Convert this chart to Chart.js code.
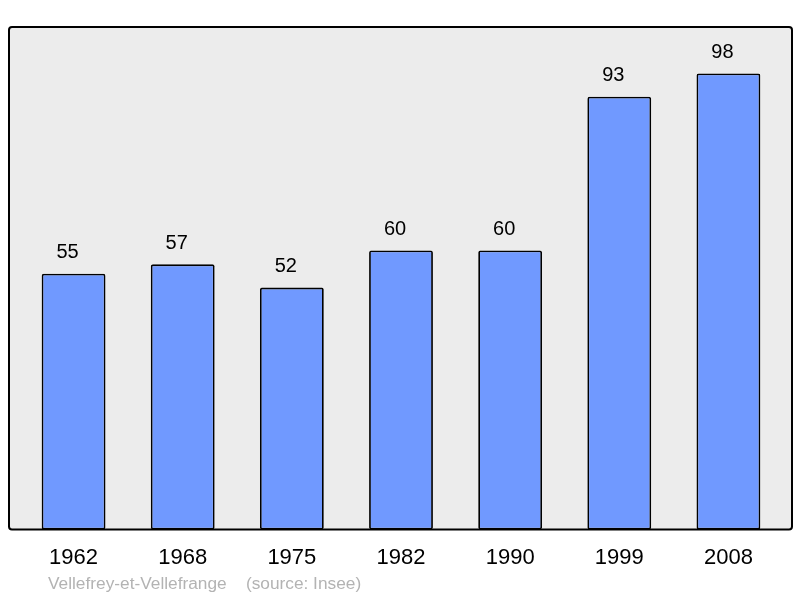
<!DOCTYPE html>
<html>
<head>
<meta charset="utf-8">
<script src="https://cdn.jsdelivr.net/npm/chart.js@4"></script>
<style>
  html, body { margin: 0; padding: 0; background: #ffffff; }
  #wrap { width: 800px; height: 598px; }
</style>
</head>
<body>
<div id="wrap"><canvas id="pop-canvas" width="800" height="598"></canvas></div>
<script>
// population by census year
var years = ['1962', '1968', '1975', '1982', '1990', '1999', '2008'];
var population = [55, 57, 52, 60, 60, 93, 98];
var footerText = 'Vellefrey-et-Vellefrange    (source: Insee)';

// grey box behind the bars, a bit wider than the chart area
var boxPlugin = {
    id: 'box',
    beforeDraw: function (chart) {
        var a = chart.chartArea;
        var ctx = chart.ctx;
        ctx.save();
        ctx.beginPath();
        ctx.roundRect(a.left - 10, a.top, a.right - a.left + 19, a.bottom - a.top, 3);
        ctx.fillStyle = '#ececec';
        ctx.fill();
        ctx.restore();
    },
    afterDatasetsDraw: function (chart) {
        var a = chart.chartArea;
        var ctx = chart.ctx;
        ctx.save();
        ctx.beginPath();
        ctx.roundRect(a.left - 10, a.top, a.right - a.left + 19, a.bottom - a.top, 3);
        ctx.lineWidth = 2;
        ctx.strokeStyle = '#000000';
        ctx.stroke();

        // values above bars
        ctx.fillStyle = '#000000';
        ctx.font = '20px "Liberation Sans", Arial, sans-serif';
        ctx.textAlign = 'center';
        ctx.textBaseline = 'middle';
        chart.getDatasetMeta(0).data.forEach(function (bar, i) {
            ctx.fillText(population[i], bar.x - 6, bar.y - 21);
        });

        // footer
        ctx.fillStyle = '#b3b3b3';
        ctx.font = '17.3px "Liberation Sans", Arial, sans-serif';
        ctx.textAlign = 'left';
        ctx.fillText(footerText, 48, 584);
        ctx.restore();
    }
};

var barConfig = {
    type: 'bar',
    data: {
        labels: years,
        datasets: [{
            label: 'Population',
            data: population,
            backgroundColor: '#7099ff',
            borderColor: '#000000',
            borderWidth: 1.8,
            borderRadius: 2,
            borderSkipped: false,
            barPercentage: 0.585,
            categoryPercentage: 1
        }]
    },
    options: {
        responsive: false,
        animation: false,
        layout: {
            padding: { left: 19, right: 17, top: 27, bottom: 12 }
        },
        plugins: {
            legend: { display: false },
            tooltip: { enabled: false }
        },
        scales: {
            x: {
                grid: { display: false, drawTicks: false },
                border: { display: false },
                ticks: {
                    color: '#000000',
                    padding: 15,
                    font: { family: '"Liberation Sans", Arial, sans-serif', size: 22 }
                }
            },
            y: {
                display: false,
                min: 0,
                max: 108
            }
        }
    },
    plugins: [boxPlugin]
};

var ctx = document.getElementById('pop-canvas').getContext('2d');
window.popChart = new Chart(ctx, barConfig);
</script>
</body>
</html>
